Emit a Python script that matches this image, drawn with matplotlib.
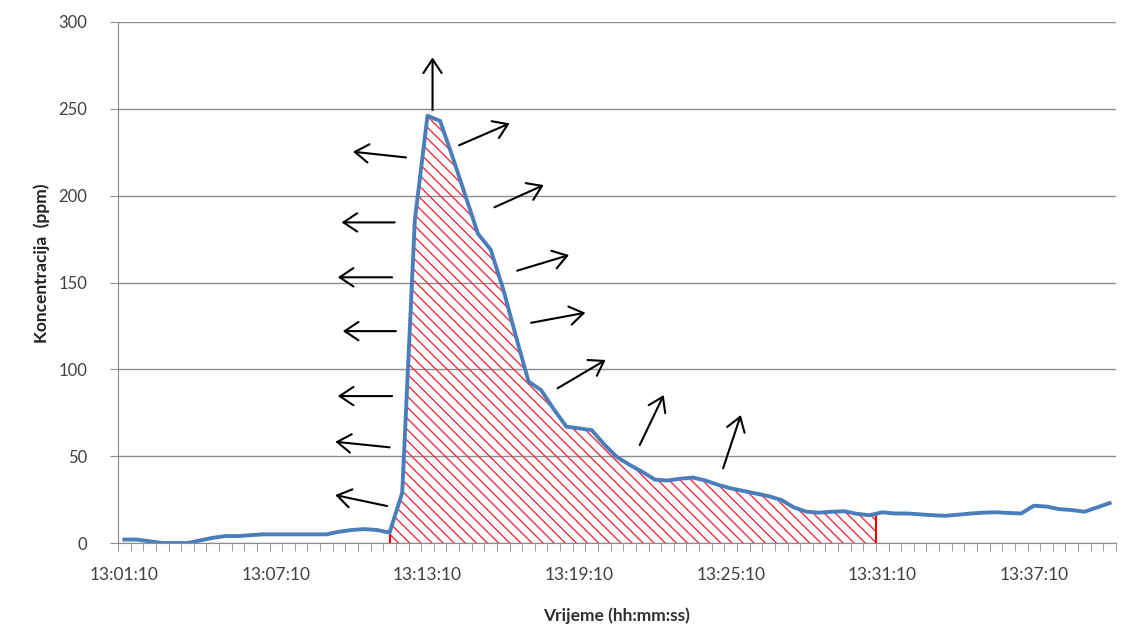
import numpy as np
import matplotlib
matplotlib.use("Agg")
import matplotlib.pyplot as plt
from datetime import datetime, timedelta

# ---- data ----
start_time = "13:01:10"
step_seconds = 30
concentration = [2, 2, 1, 0, 0, 0, 1.5, 3, 4, 4,
                 4.5, 5, 5, 5, 5, 5, 5, 6.5, 7.5, 8,
                 7.5, 6, 29, 186, 246, 243, 222, 200, 178, 169,
                 146, 119, 93, 88, 77, 67, 66, 65, 56.7, 49.5,
                 45, 41, 36.5, 36, 37, 37.7, 36, 33.5, 31.5, 30,
                 28.5, 27, 24.8, 20.5, 18, 17.5, 18, 18.3, 16.8, 16,
                 17.7, 17, 17, 16.5, 16, 15.7, 16.3, 17, 17.5, 17.7,
                 17.3, 17, 21.5, 21, 19.5, 19, 18, 20.5, 23]
label_every = 12
hatch_start = 21
hatch_end = 59.5
y_ticks = [0, 50, 100, 150, 200, 250, 300]
x_label = "Vrijeme (hh:mm:ss)"
y_label = "Koncentracija  (ppm)"

# annotation arrows (tail -> head) in data coordinates
arrows = [
    ((22.3, 222.0), (18.1, 225.3)),
    ((21.4, 184.6), (17.2, 184.6)),
    ((21.2, 153.0), (16.9, 153.0)),
    ((21.5, 122.0), (17.3, 122.0)),
    ((21.2, 84.6), (16.9, 84.6)),
    ((21.0, 55.1), (16.7, 58.3)),
    ((20.8, 21.3), (16.7, 27.6)),
    ((24.4, 249.3), (24.4, 279.6)),
    ((26.5, 229.0), (30.5, 241.6)),
    ((29.3, 193.3), (33.2, 206.1)),
    ((31.1, 156.8), (35.2, 165.8)),
    ((32.2, 126.8), (36.5, 132.6)),
    ((34.3, 89.1), (38.1, 105.4)),
    ((40.8, 56.4), (42.7, 85.2)),
    ((47.4, 43.0), (48.8, 73.7)),
]

# ---- derived ----
n = len(concentration)
idx = np.arange(n)
y = np.array(concentration, dtype=float)
t0 = datetime.strptime(start_time, "%H:%M:%S")
labels = [(t0 + timedelta(seconds=int(step_seconds * i))).strftime("%H:%M:%S") for i in range(n)]

plt.rcParams['font.family'] = ['Lato', 'DejaVu Sans']
plt.rcParams['hatch.linewidth'] = 1.0

fig = plt.figure(figsize=(11.30, 6.39), dpi=100)
ax = fig.add_axes([0.1044, 0.1502, 0.8832, 0.8154])

grid_c = '#8c8c8c'
ax.set_xlim(-0.5, n - 0.5)
ax.set_ylim(0, 300)
ax.set_yticks(y_ticks)
ax.yaxis.grid(True, color=grid_c, lw=1.0)
ax.set_axisbelow(True)

# hatched area
xf = np.concatenate([idx[(idx >= hatch_start) & (idx < hatch_end)], [hatch_end]])
yf = np.interp(xf, idx, y)
ax.fill_between(xf, 0, yf, facecolor='none', edgecolor='#f03040', hatch='\\\\\\', linewidth=0, zorder=2)
ax.plot([hatch_start, hatch_start], [0, y[hatch_start]], color='red', lw=1.5, zorder=3)
ax.plot([hatch_end, hatch_end], [0, np.interp(hatch_end, idx, y)], color='red', lw=1.5, zorder=3)

ax.plot(idx, y, color='#4a7ebb', lw=2.8, solid_joinstyle='round', zorder=4)

for (tx, ty), (hx, hy) in arrows:
    ax.annotate('', xy=(hx, hy), xytext=(tx, ty),
                arrowprops=dict(arrowstyle='->, head_length=0.45, head_width=0.3',
                                color='black', lw=1.5, mutation_scale=22,
                                shrinkA=0, shrinkB=0), zorder=5)

# axes styling
for s in ['top', 'right']:
    ax.spines[s].set_visible(False)
ax.spines['left'].set_color(grid_c)
ax.spines['bottom'].set_color(grid_c)
ax.set_xticks(idx[::label_every])
ax.set_xticklabels([labels[i] for i in range(0, n, label_every)])
ax.set_xticks(np.arange(-0.5, n, 1.0), minor=True)
ax.tick_params(axis='x', which='major', length=0, pad=17, labelsize=12.5, labelcolor='#404040')
ax.tick_params(axis='x', which='minor', length=6, color=grid_c, direction='out')
ax.tick_params(axis='y', length=6, color=grid_c, labelsize=12, labelcolor='#404040', pad=16)

ax.set_xlabel(x_label, fontsize=12.5, fontweight='bold', color='#303030')
ax.set_ylabel(y_label, fontsize=12.5, fontweight='bold', color='#202020')
ax.xaxis.set_label_coords(0.5, -0.123)
ax.yaxis.set_label_coords(-0.068, 0.537)

fig.savefig('out.png', dpi=100, facecolor='white')
